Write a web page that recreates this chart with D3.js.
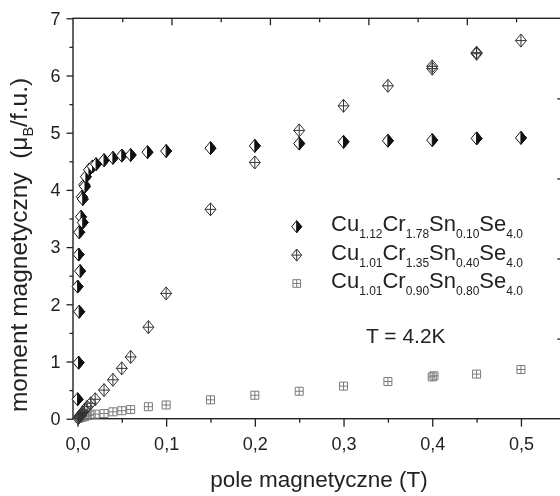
<!DOCTYPE html>
<html>
<head>
<meta charset="utf-8">
<script src="https://cdn.jsdelivr.net/npm/d3@7"></script>
<style>
  html, body { margin: 0; padding: 0; background: #fff; }
  svg { display: block; font-family: "Liberation Sans", Arial, Helvetica, sans-serif; filter: grayscale(100%); }
  .tick text { fill: #222; }
</style>
</head>
<body>
<svg id="chart" width="560" height="496"></svg>
<script>
// Magnetisation vs. applied field at T = 4.2 K for three spinel compositions

// Cu1.12Cr1.78Sn0.10Se4.0 (half-filled diamonds)
const fieldA  = [0.0002, 0.0013, 0.002, 0.0002, 0.003, 0.0013, 0.002, 0.004, 0.006, 0.005, 0.006,
                 0.0077, 0.0085, 0.0095, 0.013, 0.017, 0.021, 0.03, 0.04, 0.05, 0.06, 0.079, 0.1,
                 0.15, 0.2, 0.25, 0.3, 0.35, 0.4, 0.45, 0.5];
const momentA = [0.34, 0.98, 1.87, 2.31, 2.58, 2.87, 3.26, 3.53, 3.43, 3.88, 3.84,
                 4.09, 4.06, 4.23, 4.35, 4.41, 4.45, 4.52, 4.56, 4.60, 4.61, 4.66, 4.68,
                 4.73, 4.77, 4.81, 4.84, 4.86, 4.87, 4.90, 4.91];

// Cu1.01Cr1.35Sn0.40Se4.0 (crossed diamonds)
const fieldB  = [0.001, 0.002, 0.003, 0.004, 0.005, 0.006, 0.008, 0.011, 0.015, 0.02, 0.03, 0.04,
                 0.05, 0.06, 0.08, 0.1, 0.15, 0.2, 0.25, 0.3, 0.35, 0.4, 0.4, 0.45, 0.45, 0.5];
const momentB = [0.01, 0.03, 0.05, 0.07, 0.09, 0.11, 0.15, 0.21, 0.27, 0.34, 0.50, 0.68,
                 0.88, 1.08, 1.60, 2.19, 3.66, 4.48, 5.04, 5.47, 5.82, 6.12, 6.16, 6.38, 6.40, 6.61];

// Cu1.01Cr0.90Sn0.80Se4.0 (crossed squares)
const fieldC  = [0.002, 0.004, 0.006, 0.008, 0.010, 0.014, 0.02, 0.03, 0.04, 0.05, 0.06, 0.08, 0.1,
                 0.15, 0.2, 0.25, 0.3, 0.35, 0.4, 0.402, 0.45, 0.5];
const momentC = [0.01, 0.02, 0.03, 0.04, 0.05, 0.06, 0.08, 0.09, 0.12, 0.14, 0.16, 0.21, 0.24,
                 0.33, 0.41, 0.48, 0.57, 0.65, 0.73, 0.75, 0.78, 0.86];

// Axis ticks
const xMajor = [0, 0.1, 0.2, 0.3, 0.4, 0.5];
const xMinor = [0.05, 0.15, 0.25, 0.35, 0.45];
const yMajor = [0, 1, 2, 3, 4, 5, 6, 7];
const yMinor = [0.5, 1.5, 2.5, 3.5, 4.5, 5.5, 6.5];
// secondary (unlabelled) top and right frame ticks
const auxMajor = [1, 2, 3, 4];
const auxMinor = [0.5, 1.5, 2.5, 3.5, 4.5];

// Legend entries: [element, subscript] pairs
const legendRows = [
  [["Cu", "1.12"], ["Cr", "1.78"], ["Sn", "0.10"], ["Se", "4.0"]],
  [["Cu", "1.01"], ["Cr", "1.35"], ["Sn", "0.40"], ["Se", "4.0"]],
  [["Cu", "1.01"], ["Cr", "0.90"], ["Sn", "0.80"], ["Se", "4.0"]]
];
const tempLabel = "T = 4.2K";

const svg = d3.select("#chart");
const plotL = 73, plotR = 565.3, plotT = 18.3, plotB = 418.7;

const x = d3.scaleLinear().domain([-0.005, 0.55]).range([plotL, plotR]);
const y = d3.scaleLinear().domain([0, 7]).range([plotB, plotT]);
const xAux = d3.scaleLinear().domain([0, 5]).range([plotL, plotR]);
const yAux = d3.scaleLinear().domain([0, 5]).range([plotB, plotT]);

const comma = v => d3.format(".1f")(v).replace(".", ",");
const ink = "#222";

function styleAxis(g, fontSize) {
  g.select(".domain").remove();
  g.selectAll(".tick line").attr("stroke", ink).attr("stroke-width", 1.3);
  g.selectAll(".tick text").attr("font-size", fontSize).attr("font-family", "Liberation Sans, Arial, sans-serif");
}

// Bottom axis
svg.append("g").attr("transform", `translate(0,${plotB})`)
  .call(d3.axisBottom(x).tickValues(xMajor).tickSize(8).tickPadding(11).tickFormat(comma))
  .call(g => styleAxis(g, 18));
svg.append("g").attr("transform", `translate(0,${plotB})`)
  .call(d3.axisBottom(x).tickValues(xMinor).tickSize(4).tickFormat(""))
  .call(g => styleAxis(g, 18));

// Left axis
svg.append("g").attr("transform", `translate(${plotL},0)`)
  .call(d3.axisLeft(y).tickValues(yMajor).tickSize(6.5).tickPadding(6).tickFormat(d3.format("d")))
  .call(g => styleAxis(g, 18));
svg.append("g").attr("transform", `translate(${plotL},0)`)
  .call(d3.axisLeft(y).tickValues(yMinor).tickSize(3.5).tickFormat(""))
  .call(g => styleAxis(g, 18));

// Top frame ticks (inward)
svg.append("g").attr("transform", `translate(0,${plotT})`)
  .call(d3.axisTop(xAux).tickValues(auxMajor).tickSize(-7).tickFormat(""))
  .call(g => styleAxis(g, 18));
svg.append("g").attr("transform", `translate(0,${plotT})`)
  .call(d3.axisTop(xAux).tickValues(auxMinor).tickSize(-4).tickFormat(""))
  .call(g => styleAxis(g, 18));

// Right frame ticks (inward)
svg.append("g").attr("transform", `translate(${plotR},0)`)
  .call(d3.axisRight(yAux).tickValues(auxMajor).tickSize(-8).tickFormat(""))
  .call(g => styleAxis(g, 18));

// Frame
svg.append("rect")
  .attr("x", plotL).attr("y", plotT)
  .attr("width", plotR - plotL).attr("height", plotB - plotT)
  .attr("fill", "none").attr("stroke", ink).attr("stroke-width", 1.4);

// Marker shapes
const hw = 5.5, hh = 6.5;
function halfDiamond(g, cx, cy, w, h) {
  g.append("path")
    .attr("d", `M${cx},${cy - h}L${cx + w},${cy}L${cx},${cy + h}L${cx - w},${cy}Z`)
    .attr("fill", "#fff").attr("stroke", "#111").attr("stroke-width", 1);
  g.append("path")
    .attr("d", `M${cx},${cy - h}L${cx + w},${cy}L${cx},${cy + h}Z`)
    .attr("fill", "#111").attr("stroke", "#111").attr("stroke-width", 1);
}
function crossDiamond(g, cx, cy, w, h) {
  g.append("path")
    .attr("d", `M${cx},${cy - h}L${cx + w},${cy}L${cx},${cy + h}L${cx - w},${cy}Z` +
               `M${cx},${cy - h}L${cx},${cy + h}M${cx - w},${cy}L${cx + w},${cy}`)
    .attr("fill", "none").attr("stroke", "#333").attr("stroke-width", 1);
}
function crossSquare(g, cx, cy, s) {
  g.append("path")
    .attr("d", `M${cx - s},${cy - s}H${cx + s}V${cy + s}H${cx - s}Z` +
               `M${cx},${cy - s}V${cy + s}M${cx - s},${cy}H${cx + s}`)
    .attr("fill", "none").attr("stroke", "#7a7a7a").attr("stroke-width", 1);
}

const plot = svg.append("g");
const gC = plot.append("g"), gB = plot.append("g"), gA = plot.append("g");
fieldC.forEach((f, i) => crossSquare(gC, x(f), y(momentC[i]), 4));
fieldB.forEach((f, i) => crossDiamond(gB, x(f), y(momentB[i]), hw, hh));
fieldA.forEach((f, i) => halfDiamond(gA, x(f), y(momentA[i]), hw, hh));

// Legend
const legend = svg.append("g");
const legX = 296.7, legTextX = 331, legY0 = 226.7, legStep = 28.4;
halfDiamond(legend, legX, legY0, 5, 6);
crossDiamond(legend, legX, legY0 + legStep, 5, 6);
crossSquare(legend, legX, legY0 + 2 * legStep, 3.8);

legendRows.forEach((row, i) => {
  const t = legend.append("text")
    .attr("x", legTextX).attr("y", legY0 + 4.5 + i * legStep)
    .attr("font-size", 22).attr("fill", ink);
  row.forEach(([el, sub], j) => {
    // element symbol back on the main baseline, then its subscript below it
    t.append("tspan").attr("dy", j === 0 ? 0 : -7).text(el);
    t.append("tspan").attr("font-size", 12).attr("dy", 7).text(sub);
  });
});

legend.append("text")
  .attr("x", 366).attr("y", 343)
  .attr("font-size", 21).attr("fill", ink)
  .text(tempLabel);

// Axis titles
svg.append("text")
  .attr("x", 319).attr("y", 487)
  .attr("text-anchor", "middle")
  .attr("font-size", 22.5).attr("fill", ink)
  .text("pole magnetyczne (T)");

const yTitle = svg.append("text")
  .attr("transform", "translate(27,245) rotate(-90)")
  .attr("text-anchor", "middle")
  .attr("font-size", 24.5).attr("fill", ink)
  .style("white-space", "pre");
yTitle.append("tspan").text("moment magnetyczny  (\u03BC");
yTitle.append("tspan").attr("font-size", 14.5).attr("dy", 6).text("B");
yTitle.append("tspan").attr("dy", -6).text("/f.u.)");
</script>
</body>
</html>
